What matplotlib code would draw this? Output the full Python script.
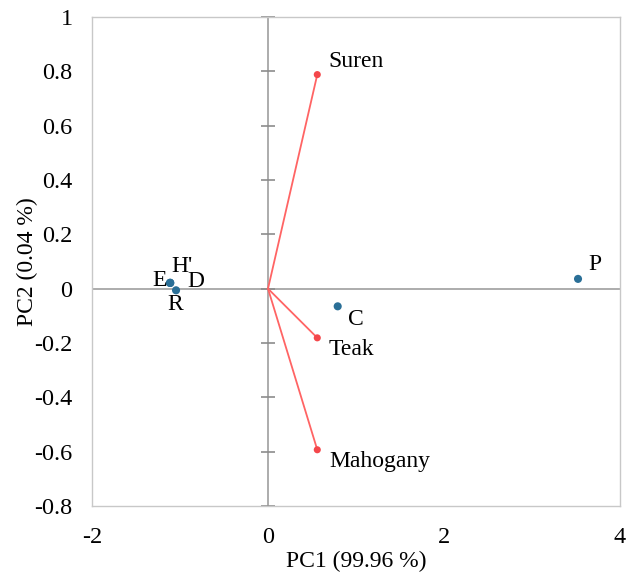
import matplotlib
matplotlib.use("Agg")
import matplotlib.pyplot as plt

plt.rcParams['font.family'] = ['Liberation Serif', 'DejaVu Serif']

# Observations (scores)
obs_names = ["E", "H'", "D", "R", "C", "P"]
obs_pc1 = [-1.114, -1.112, -1.110, -1.045, 0.792, 3.523]
obs_pc2 = [0.021, 0.022, 0.021, -0.006, -0.065, 0.036]

# Variables (loadings)
var_names = ["Suren", "Teak", "Mahogany"]
var_pc1 = [0.56, 0.56, 0.56]
var_pc2 = [0.788, -0.181, -0.593]

xticks = [-2, 0, 2, 4]
yticks = [-0.8, -0.6, -0.4, -0.2, 0, 0.2, 0.4, 0.6, 0.8, 1]
ytick_labels = ["-0.8", "-0.6", "-0.4", "-0.2", "0", "0.2", "0.4", "0.6", "0.8", "1"]

fig = plt.figure(figsize=(6.33, 5.72), dpi=100)
ax = fig.add_axes([92 / 633, 1 - 506 / 572, (620 - 92) / 633, (506 - 17) / 572])

ax.set_xlim(-2, 4)
ax.set_ylim(-0.8, 1)

for s in ax.spines.values():
    s.set_color("#c8c8c8")
    s.set_linewidth(1.0)

gray = "#a6a6a6"
ax.axhline(0, color=gray, lw=1.3, zorder=1)
ax.axvline(0, color=gray, lw=1.3, zorder=1)
# tick marks crossing the vertical axis
ax.plot([0] * len(yticks), yticks, linestyle='none', marker='_', markersize=10.5,
        markeredgewidth=1.2, color="#8c8c8c", zorder=1, clip_on=False)

ax.set_xticks(xticks)
ax.set_xticklabels([str(v) for v in xticks])
ax.set_yticks(yticks)
ax.set_yticklabels(ytick_labels)
ax.tick_params(length=0, labelsize=17.5, colors="black")
ax.tick_params(axis='x', pad=15)
ax.tick_params(axis='y', pad=14)

line_red = "#ff6464"
dot_red = "#f4474b"
for x, y in zip(var_pc1, var_pc2):
    ax.plot([0, x], [0, y], color=line_red, lw=1.3, zorder=2)
ax.scatter(var_pc1, var_pc2, s=26, color=dot_red, zorder=3, edgecolors='none')

blue = "#2a6f97"
ax.scatter(obs_pc1, obs_pc2, s=34, color=blue, zorder=3, edgecolors='none')

fs = 17
var_offsets = {"Suren": (10.6, 7.7), "Teak": (11, -17.4), "Mahogany": (11.6, -17.3)}
for n, x, y in zip(var_names, var_pc1, var_pc2):
    dx, dy = var_offsets[n]
    ax.annotate(n, (x, y), xytext=(dx, dy), textcoords='offset pixels',
                ha='left', va='baseline', fontsize=fs)

obs_offsets = {"E": (-18, -3.4), "H'": (1, 10.3), "D": (17.5, -3.7),
               "R": (-9, -19.3), "C": (10, -19), "P": (10, 9)}
for n, x, y in zip(obs_names, obs_pc1, obs_pc2):
    dx, dy = obs_offsets[n]
    ax.annotate(n, (x, y), xytext=(dx, dy), textcoords='offset pixels',
                ha='left', va='baseline', fontsize=fs)

ax.set_xlabel("PC1 (99.96 %)", fontsize=17, labelpad=2)
ax.set_ylabel("PC2 (0.04 %)", fontsize=17, labelpad=-3)

fig.savefig("out.png", dpi=100, facecolor="white")
